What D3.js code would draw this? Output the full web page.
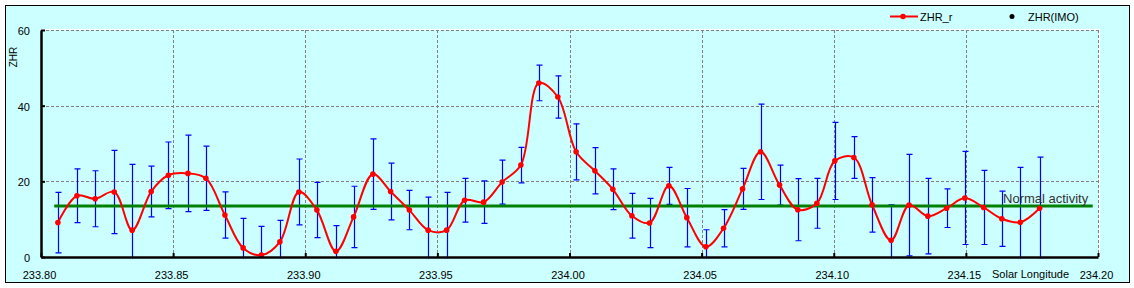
<!DOCTYPE html>
<html>
<head>
<meta charset="utf-8">
<script src="https://cdn.jsdelivr.net/npm/d3@7"></script>
<style>
  body { margin: 0; background: #fff; }
  svg { display: block; font-family: "Liberation Sans", Arial, sans-serif; }
</style>
</head>
<body>
<svg id="chart" width="1134" height="288"></svg>
<script>
// solar longitude of each 10-minute bin
const solLong = [
  233.8064, 233.8136, 233.8205, 233.8277, 233.8345, 233.8417, 233.8482, 233.8556, 233.8624, 233.8696,
  233.8765, 233.8834, 233.8904, 233.8976, 233.9044, 233.9116, 233.9183, 233.9256, 233.9323, 233.9394,
  233.9465, 233.9535, 233.9603, 233.9675, 233.9745, 233.9816, 233.9884, 233.9956, 234.0025, 234.0096,
  234.0164, 234.0236, 234.0303, 234.0376, 234.0444, 234.0516, 234.0583, 234.0655, 234.0723, 234.0795,
  234.0864, 234.0936, 234.1004, 234.1076, 234.1145, 234.1217, 234.1285, 234.1356, 234.1427, 234.1496,
  234.1567, 234.1636, 234.1706, 234.1779
];
// ZHR_r values
const zhr = [
  9.1, 16.2, 15.4, 17.2, 7.1, 17.3, 21.6, 22.1, 20.8, 11.1,
  2.4, 0.5, 4.0, 17.2, 12.4, 1.5, 10.6, 21.9, 17.3, 12.4,
  7.1, 7.1, 15.0, 14.5, 19.8, 24.3, 46.0, 42.3, 27.8, 22.8,
  17.9, 10.9, 9.0, 18.8, 10.4, 2.7, 7.6, 18.0, 27.8, 19.0,
  12.5, 14.2, 25.4, 26.3, 13.8, 4.4, 13.7, 10.8, 12.9, 15.6,
  13.1, 10.1, 9.2, 12.9
];
// +/- error of each value
const zhrErr = [
  8.0, 7.1, 7.4, 11.0, 17.4, 6.7, 8.8, 10.1, 8.5, 6.1,
  7.8, 7.6, 5.7, 8.7, 7.3, 6.8, 8.1, 9.3, 7.5, 5.2,
  8.7, 10.0, 5.8, 5.6, 5.8, 4.7, 4.7, 5.6, 7.4, 6.1,
  5.4, 5.9, 6.5, 4.9, 7.7, 4.5, 4.9, 5.4, 12.6, 5.3,
  8.2, 6.6, 10.2, 5.5, 7.2, 9.4, 13.4, 10.0, 5.1, 12.3,
  9.8, 7.3, 14.5, 13.5
];
const normalLevel = 13.5;
const normalRange = [233.805, 234.198];
const xTicks = [233.80, 233.85, 233.90, 233.95, 234.00, 234.05, 234.10, 234.15, 234.20];
const yTicks = [0, 20, 40, 60];

const data = solLong.map((s, i) => ({ sl: s, v: zhr[i], e: zhrErr[i] }));

const svg = d3.select("#chart");

// background + frame
svg.append("rect")
  .attr("x", 5.5).attr("y", 5.5)
  .attr("width", 1124).attr("height", 277)
  .attr("fill", "#ccffff")
  .attr("stroke", "#000").attr("stroke-width", 1);

// scales
const x = d3.scaleLinear().domain([233.80, 234.20]).range([41, 1098]);
const y = d3.scaleLinear().domain([0, 60]).range([257, 30]);

// plot area outline (white)
svg.append("rect")
  .attr("x", x(233.80)).attr("y", y(60) - 0.5)
  .attr("width", x(234.20) - x(233.80) + 1.5).attr("height", y(0) - y(60))
  .attr("fill", "none")
  .attr("stroke", "#fff").attr("stroke-width", 1);

// gridlines
const grid = svg.append("g").attr("stroke", "#808080").attr("stroke-width", 1).attr("stroke-dasharray", "3,2");
grid.selectAll(".gx")
  .data(xTicks.slice(1))
  .enter().append("line")
  .attr("x1", d => Math.round(x(d)) + 0.5).attr("x2", d => Math.round(x(d)) + 0.5)
  .attr("y1", y(60)).attr("y2", y(0));
grid.selectAll(".gy")
  .data(yTicks.slice(1))
  .enter().append("line")
  .attr("x1", x(233.80)).attr("x2", x(234.20))
  .attr("y1", d => Math.round(y(d)) + 0.5).attr("y2", d => Math.round(y(d)) + 0.5);

// clip for the error bars
svg.append("clipPath").attr("id", "plotClip")
  .append("rect")
  .attr("x", x(233.80)).attr("y", y(60) - 2)
  .attr("width", x(234.20) - x(233.80)).attr("height", y(0) - y(60) + 3.5);

// error bars
const bars = svg.append("g")
  .attr("clip-path", "url(#plotClip)")
  .attr("stroke", "#0000ff").attr("stroke-width", 1.2);
data.forEach(d => {
  const cx = Math.round(x(d.sl)) + 0.5;
  bars.append("line")
    .attr("x1", cx).attr("x2", cx)
    .attr("y1", y(d.v + d.e)).attr("y2", y(d.v - d.e));
  [d.v + d.e, d.v - d.e].forEach(t => {
    bars.append("line")
      .attr("x1", cx - 3).attr("x2", cx + 3)
      .attr("y1", y(t)).attr("y2", y(t));
  });
});

// normal activity line
svg.append("line")
  .attr("x1", x(normalRange[0])).attr("x2", x(normalRange[1]))
  .attr("y1", y(normalLevel)).attr("y2", y(normalLevel))
  .attr("stroke", "#008000").attr("stroke-width", 3);

svg.append("text")
  .attr("x", 1003).attr("y", y(normalLevel) - 3)
  .style("font-size", "13px")
  .attr("fill", "#333")
  .text("Normal activity");

// smoothed ZHR_r line
const line = d3.line()
  .x(d => x(d.sl))
  .y(d => y(d.v))
  .curve(d3.curveCatmullRom.alpha(0.5));

svg.append("path")
  .datum(data)
  .attr("fill", "none")
  .attr("stroke", "#ff0000")
  .attr("stroke-width", 2)
  .attr("d", line);

svg.selectAll(".dot")
  .data(data)
  .enter().append("circle")
  .attr("class", "dot")
  .attr("cx", d => x(d.sl))
  .attr("cy", d => y(d.v))
  .attr("r", 2.8)
  .attr("fill", "#ff0000");

// axes
const xAxis = svg.append("g")
  .attr("transform", `translate(0, ${y(0)})`)
  .call(d3.axisBottom(x).tickValues(xTicks).tickFormat(d3.format(".2f"))
    .tickSizeInner(-4).tickSizeOuter(0).tickPadding(14));
const yAxis = svg.append("g")
  .attr("transform", `translate(${x(233.80)}, 0)`)
  .call(d3.axisLeft(y).tickValues(yTicks)
    .tickSizeInner(-4).tickSizeOuter(0).tickPadding(11));

[xAxis, yAxis].forEach(g => {
  g.select(".domain").attr("stroke", "#000").attr("stroke-width", 2.5);
  g.selectAll(".tick line").attr("stroke", "#000").attr("stroke-width", 2);
  g.selectAll("text").style("font-size", "11px").attr("fill", "#000")
    .style("font-family", "'Liberation Sans', Arial, sans-serif");
});
xAxis.selectAll("text").attr("dx", -2);
yAxis.selectAll("text").attr("dy", "0.4em");

// axis titles
svg.append("text")
  .attr("transform", "translate(17, 57) rotate(-90)")
  .attr("text-anchor", "middle")
  .style("font-size", "10px")
  .text("ZHR");

svg.append("text")
  .attr("x", 992).attr("y", 278)
  .style("font-size", "11px")
  .text("Solar Longitude");

// legend
const legend = svg.append("g");
legend.append("line")
  .attr("x1", 890).attr("x2", 918).attr("y1", 16.5).attr("y2", 16.5)
  .attr("stroke", "#ff0000").attr("stroke-width", 2);
legend.append("circle")
  .attr("cx", 903).attr("cy", 16.5).attr("r", 2.8).attr("fill", "#ff0000");
legend.append("text")
  .attr("x", 920).attr("y", 20.5)
  .style("font-size", "11px")
  .text("ZHR_r");
legend.append("circle")
  .attr("cx", 1012).attr("cy", 16.5).attr("r", 2.5).attr("fill", "#000");
legend.append("text")
  .attr("x", 1028).attr("y", 20.5)
  .style("font-size", "11px")
  .text("ZHR(IMO)");
</script>
</body>
</html>
